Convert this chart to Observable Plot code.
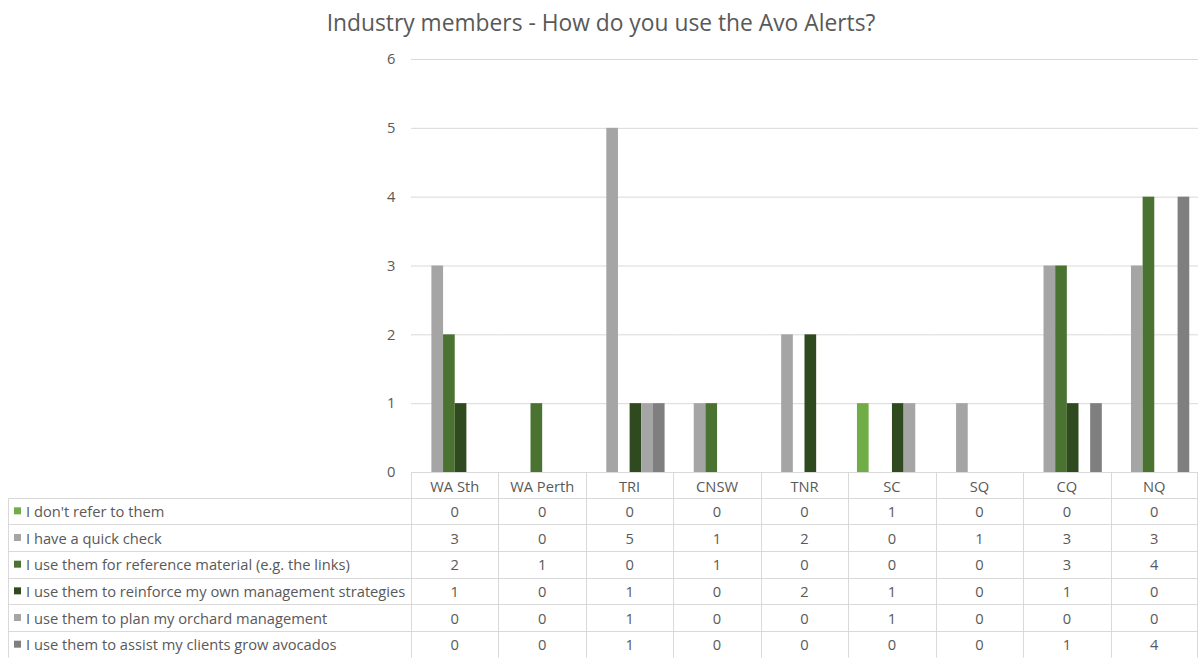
<!DOCTYPE html>
<html>
<head>
<meta charset="utf-8">
<script src="https://cdn.jsdelivr.net/npm/d3@7"></script>
<script src="https://cdn.jsdelivr.net/npm/@observablehq/plot@0.6"></script>
<style>
  body { margin: 0; background: #fff; font-family: "Open Sans", sans-serif; }
  #title { height: 45px; line-height: 45px; text-align: center; font-size: 22.8px; color: #595959; }
  #chart svg { display: block; }
</style>
</head>
<body>
<div id="title">Industry members - How do you use the Avo Alerts?</div>
<div id="chart"></div>
<script>
const categories = ["WA Sth", "WA Perth", "TRI", "CNSW", "TNR", "SC", "SQ", "CQ", "NQ"];
const seriesNames = [
  "I don't refer to them",
  "I have a quick check",
  "I use them for reference material (e.g. the links)",
  "I use them to reinforce my own management strategies",
  "I use them to plan my orchard management",
  "I use them to assist my clients grow avocados"
];
const dontRefer      = [0, 0, 0, 0, 0, 1, 0, 0, 0];
const quickCheck     = [3, 0, 5, 1, 2, 0, 1, 3, 3];
const reference      = [2, 1, 0, 1, 0, 0, 0, 3, 4];
const reinforce      = [1, 0, 1, 0, 2, 1, 0, 1, 0];
const planOrchard    = [0, 0, 1, 0, 0, 1, 0, 0, 0];
const assistClients  = [0, 0, 1, 0, 0, 0, 0, 1, 4];
const seriesValues = [dontRefer, quickCheck, reference, reinforce, planOrchard, assistClients];
const yTicks = [0, 1, 2, 3, 4, 5, 6];
const colors = ["#70AD47", "#A5A5A5", "#4A7331", "#2F4A1F", "#A5A5A5", "#7F7F7F"];

const data = [];
seriesNames.forEach((s, i) => categories.forEach((c, j) => data.push({series: s, category: c, value: seriesValues[i][j]})));

const W = 1202, H = 613;
const fontSize = 14.7;
const plot = Plot.plot({
  width: W, height: H,
  marginLeft: 411, marginRight: 4, marginTop: 14, marginBottom: 186,
  style: {fontFamily: "Open Sans, sans-serif", fontSize: fontSize + "px", color: "#595959", background: "#fff"},
  fx: {domain: categories, padding: 0, round: false, axis: null},
  x: {domain: seriesNames, paddingInner: 0, paddingOuter: 0.75, round: false, axis: null},
  y: {domain: [0, 6], ticks: yTicks, tickSize: 0, tickPadding: 16, label: null, tickFormat: d3.format("d")},
  color: {domain: seriesNames, range: colors},
  marks: [
    Plot.gridY(yTicks.filter(t => t > 0), {stroke: "#D9D9D9", strokeOpacity: 1}),
    Plot.barY(data, {fx: "category", x: "series", y: "value", fill: "series"})
  ]
});
document.getElementById("chart").appendChild(plot);

// Data table below the plot, positioned with the plot's own scales
const fx = plot.scale("fx");
const ys = plot.scale("y");
const y0 = ys.apply(0);
const left = fx.apply(categories[0]);
const bw = fx.bandwidth;
const right = fx.apply(categories[categories.length - 1]) + bw;
const headerH = 25.5, rowH = 26.67, tableLeft = 8.5;
const svg = d3.select(plot);
const g = svg.append("g").attr("class", "table").attr("font-size", fontSize).attr("fill", "#595959");
const lineColor = "#D9D9D9";
const rowTop = i => y0 + headerH + i * rowH;
const bottom = rowTop(seriesNames.length);
// horizontal lines
g.append("line").attr("x1", left).attr("x2", right).attr("y1", y0 + 0.5).attr("y2", y0 + 0.5).attr("stroke", lineColor);
for (let i = 0; i <= seriesNames.length; i++) {
  const yy = Math.round(rowTop(i)) + 0.5;
  g.append("line").attr("x1", tableLeft).attr("x2", right).attr("y1", yy).attr("y2", yy).attr("stroke", lineColor);
}
// vertical lines
g.append("line").attr("x1", tableLeft).attr("x2", tableLeft).attr("y1", Math.round(rowTop(0)) + 0.5).attr("y2", bottom).attr("stroke", lineColor);
categories.forEach((c, j) => {
  const xx = Math.round(fx.apply(c)) + 0.5;
  g.append("line").attr("x1", xx).attr("x2", xx).attr("y1", y0).attr("y2", bottom).attr("stroke", lineColor);
});
g.append("line").attr("x1", Math.round(right) - 0.5).attr("x2", Math.round(right) - 0.5).attr("y1", y0).attr("y2", bottom).attr("stroke", lineColor);
// header
categories.forEach(c => {
  g.append("text").attr("x", fx.apply(c) + bw / 2).attr("y", y0 + headerH / 2 + 1).attr("text-anchor", "middle")
    .attr("dominant-baseline", "central").text(c);
});
// rows
seriesNames.forEach((s, i) => {
  const cy = rowTop(i) + rowH / 2;
  g.append("rect").attr("x", 14).attr("y", cy - 3.5).attr("width", 7).attr("height", 7).attr("fill", colors[i]);
  g.append("text").attr("x", 26).attr("y", cy).attr("text-anchor", "start")
    .attr("dominant-baseline", "central").text(s);
  categories.forEach((c, j) => {
    g.append("text").attr("x", fx.apply(c) + bw / 2).attr("y", cy).attr("text-anchor", "middle")
      .attr("dominant-baseline", "central").text(seriesValues[i][j]);
  });
});
</script>
</body>
</html>
